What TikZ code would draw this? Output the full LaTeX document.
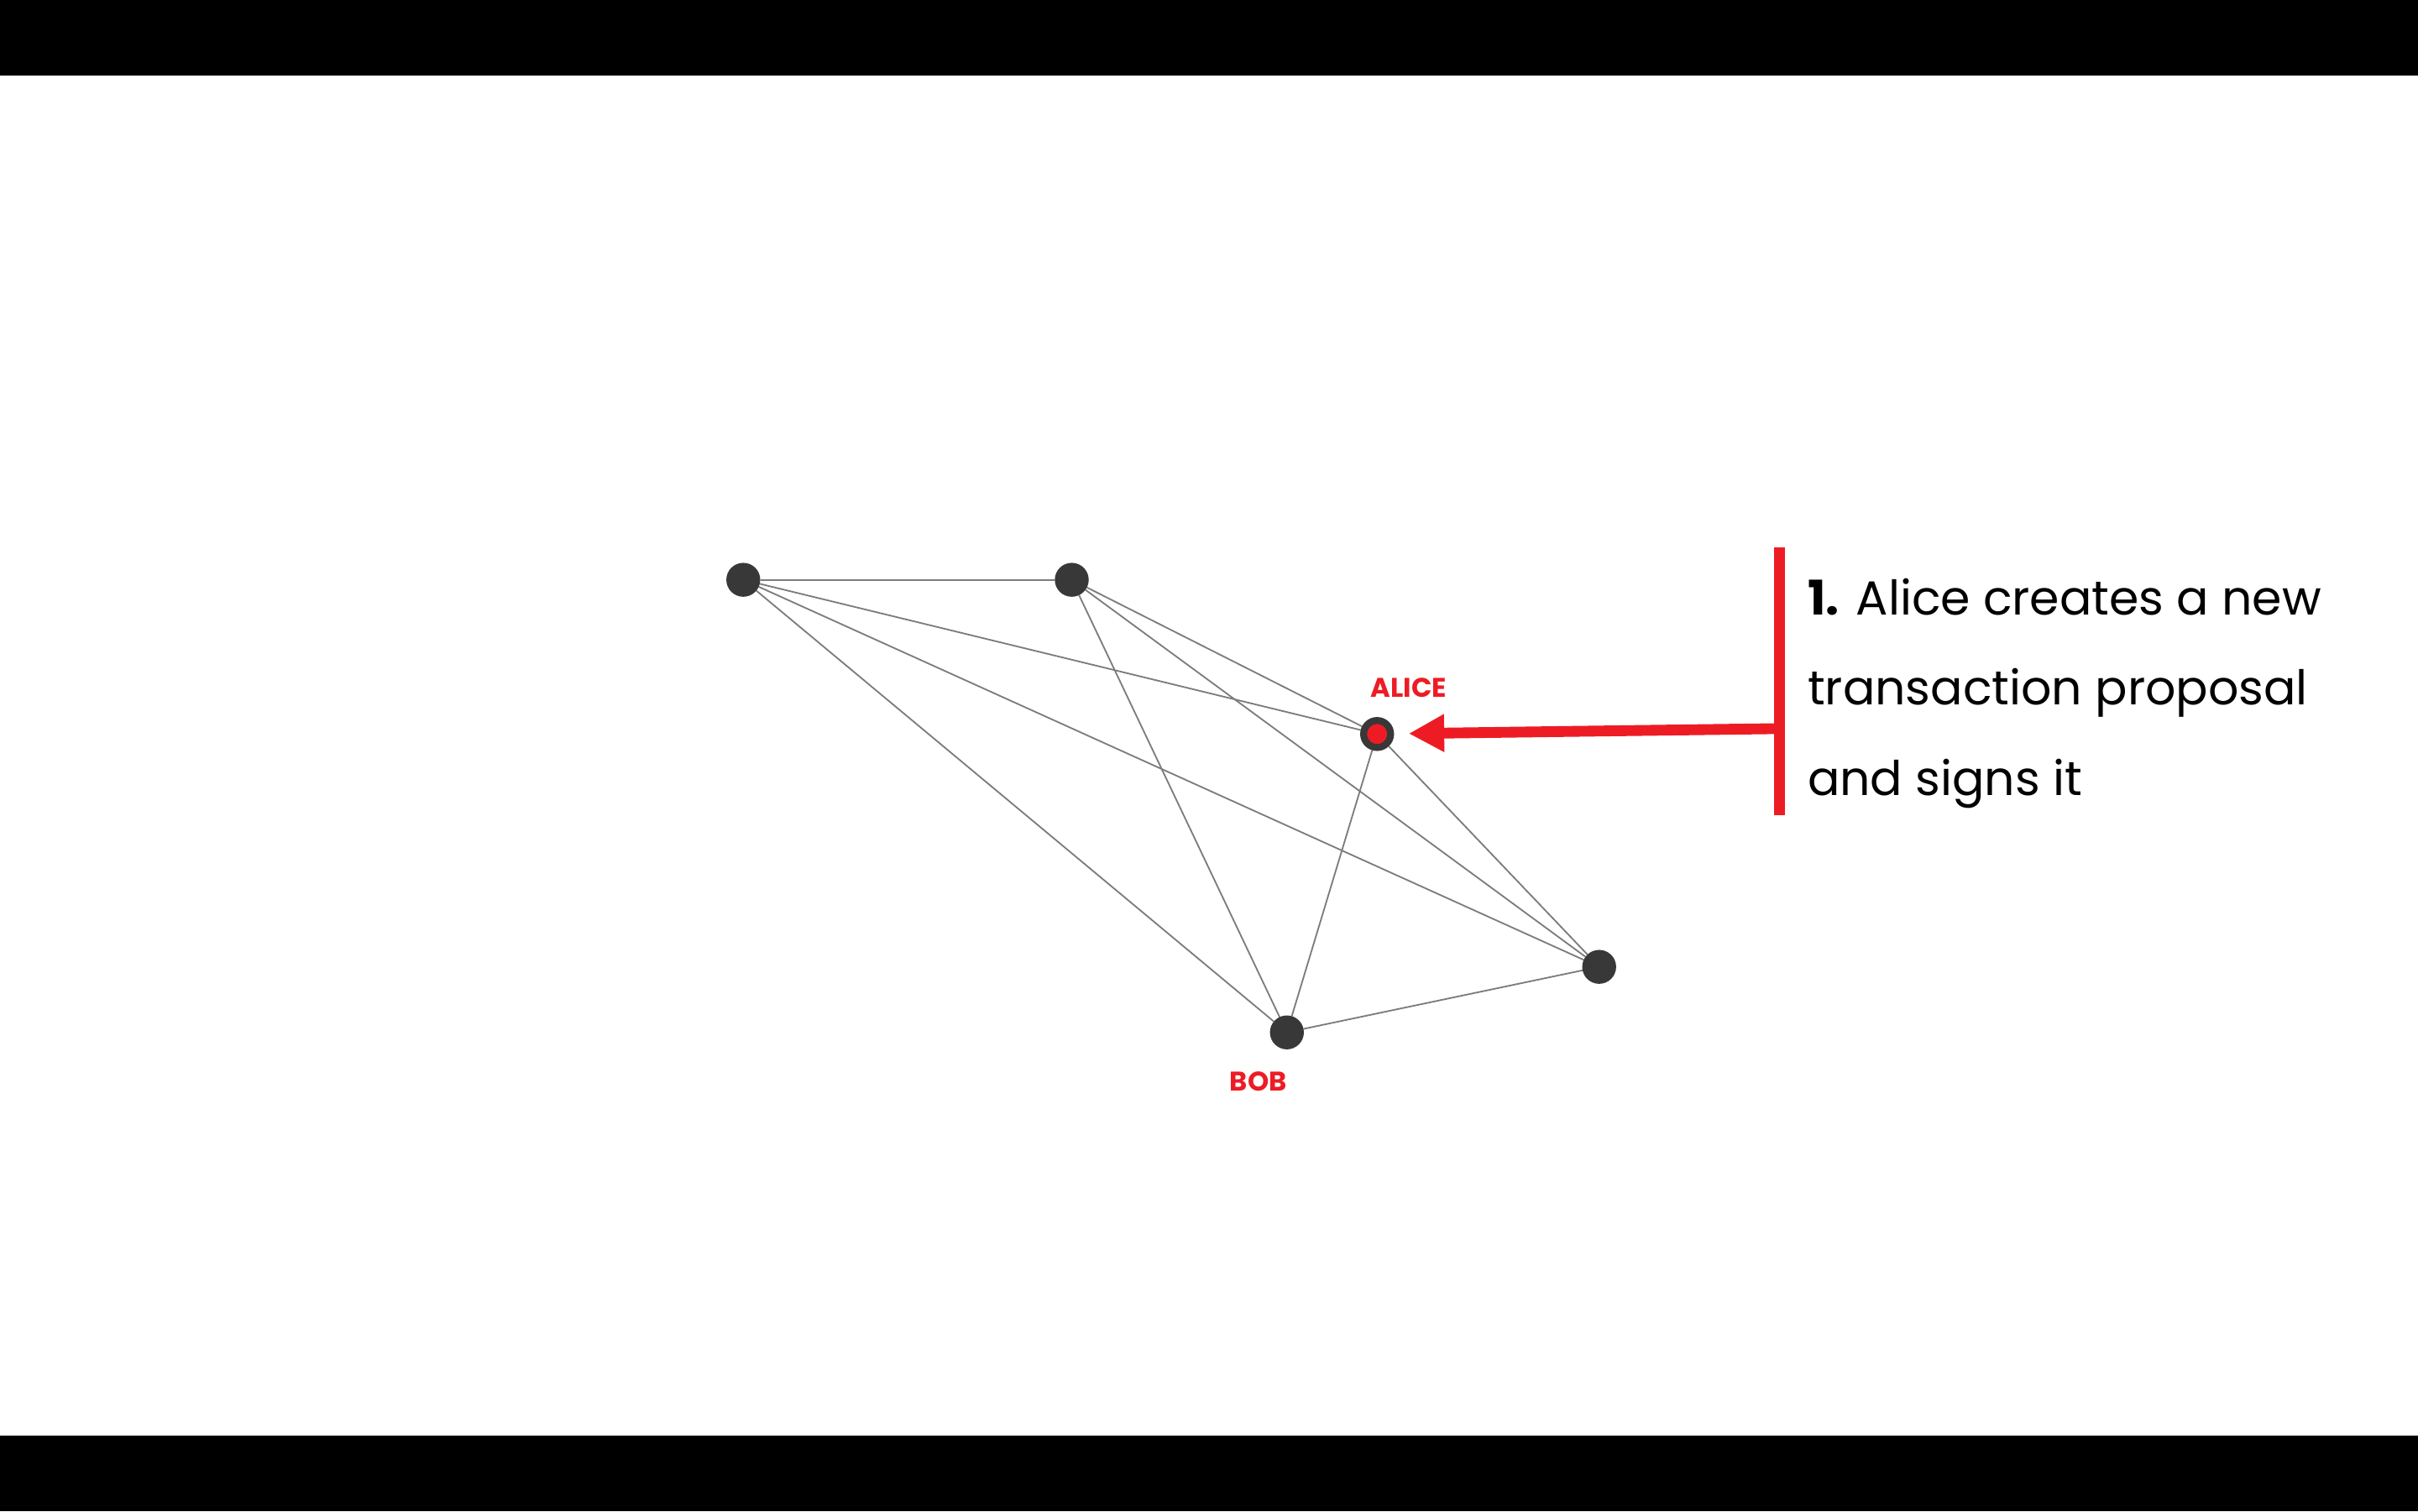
\documentclass[tikz,border=0pt]{standalone}
\usepackage{fontspec}
\setmainfont{Poppins}
\usetikzlibrary{arrows.meta,backgrounds}
\definecolor{nodegray}{HTML}{383838}
\definecolor{edgegray}{HTML}{7C7C7C}
\definecolor{accent}{HTML}{ED1C24}
\begin{document}
\begin{tikzpicture}[x=1pt,y=-1pt,
  peer/.style={circle,fill=nodegray,inner sep=0pt,outer sep=0pt,minimum size=22pt},
  alicepeer/.style={circle,fill=accent,draw=nodegray,line width=4.5pt,inner sep=0pt,minimum size=17.5pt},
  link/.style={draw=edgegray,line width=1pt},
  peerlabel/.style={text=accent,font=\fontsize{17.5}{20}\selectfont\bfseries,inner sep=0pt},
  caption/.style={anchor=base west,inner sep=0pt,font=\fontsize{31}{36}\selectfont}
]
\useasboundingbox (0,0) rectangle (1568,980);
\fill[black] (0,0) rectangle (1568,49);
\fill[black] (0,931) rectangle (1568,980);

\node[peer] (a) at (482,376) {};
\node[peer] (b) at (695,376) {};
\node[alicepeer] (alice) at (893,476) {};
\node[peer] (e) at (1037,627) {};
\node[peer] (bob) at (834.5,669.5) {};

\begin{scope}[on background layer]
\draw[link] (a) -- (b);
\draw[link] (a) -- (alice);
\draw[link] (a) -- (e);
\draw[link] (a) -- (bob);
\draw[link] (b) -- (alice);
\draw[link] (b) -- (e);
\draw[link] (b) -- (bob);
\draw[link] (alice) -- (e);
\draw[link] (alice) -- (bob);
\draw[link] (bob) -- (e);
\end{scope}

\node[peerlabel] (alicelabel) at (913.5,446) {ALICE};
\node[peerlabel] (boblabel) at (816,701.5) {BOB};

\coordinate (bartop) at (1154,355);
\coordinate (barbot) at (1154,528.5);
\coordinate (barmid) at (1154,472.5);
\draw[accent,line width=7pt] (bartop) -- (barbot);
\draw[accent,line width=7pt,-{Triangle[length=23pt,width=23pt]},shorten >=9.5pt] (barmid) -- (alice);

\node[caption] (t1) at (1172,398.6) {\textbf{1.} Alice creates a new};
\node[caption] (t2) at (1172,457.3) {transaction proposal};
\node[caption] (t3) at (1172,516) {and signs it};
\end{tikzpicture}
\end{document}
